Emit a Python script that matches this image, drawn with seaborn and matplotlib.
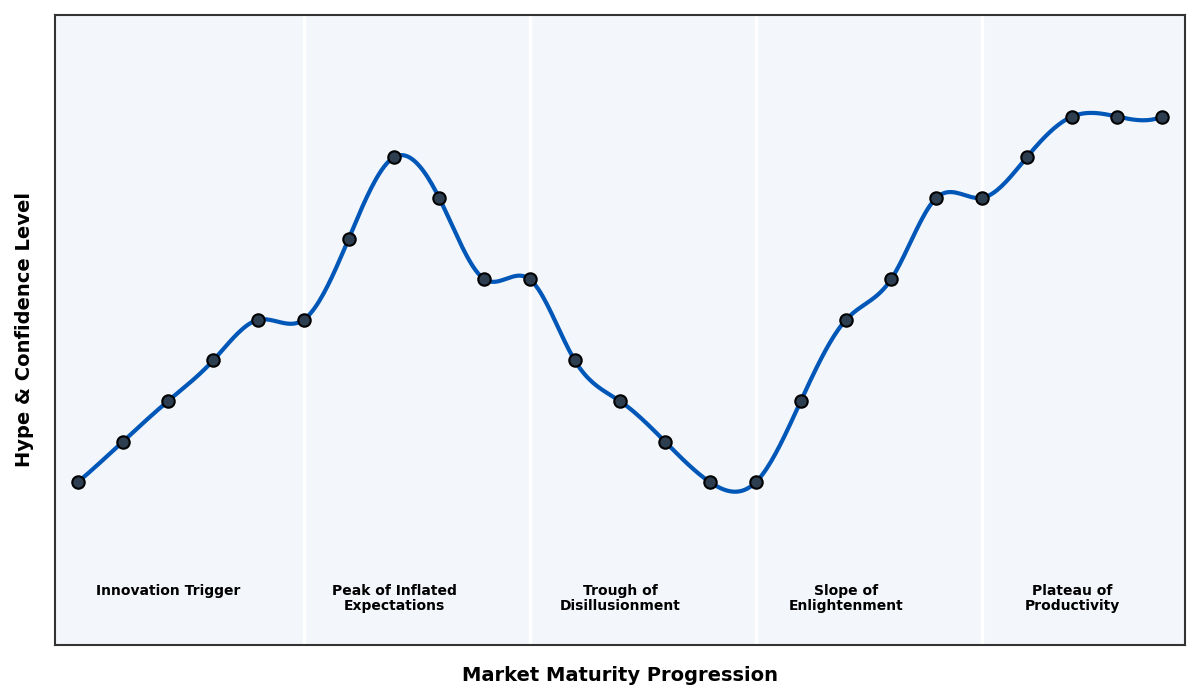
import matplotlib
matplotlib.use("Agg")
import matplotlib.pyplot as plt
import numpy as np
import pandas as pd
import seaborn as sns

# Data
stage = list(range(25))
hype = [1, 2, 3, 4, 5, 5, 7, 9, 8, 6, 6, 4, 3, 2, 1, 1, 3, 5, 6, 8, 8, 9, 10, 10, 10]
phase_names = [
    "Innovation Trigger",
    "Peak of Inflated\nExpectations",
    "Trough of\nDisillusionment",
    "Slope of\nEnlightenment",
    "Plateau of\nProductivity",
]
phase_centers = [2, 7, 12, 17, 22]
phase_bounds = [5, 10, 15, 20]


def smooth_curve(x, y, n=500):
    # cubic spline (not-a-knot) so the line passes through every point
    try:
        from scipy.interpolate import make_interp_spline
        xs = np.linspace(min(x), max(x), n)
        return xs, make_interp_spline(x, y, k=3)(xs)
    except ImportError:
        x = np.asarray(x, float)
        y = np.asarray(y, float)
        m = len(x)
        h = np.diff(x)
        A = np.zeros((m, m))
        b = np.zeros(m)
        A[0, 0], A[0, 1], A[0, 2] = h[1], -(h[0] + h[1]), h[0]
        A[-1, -3], A[-1, -2], A[-1, -1] = h[-1], -(h[-2] + h[-1]), h[-2]
        for i in range(1, m - 1):
            A[i, i - 1] = h[i - 1]
            A[i, i] = 2 * (h[i - 1] + h[i])
            A[i, i + 1] = h[i]
            b[i] = 6 * ((y[i + 1] - y[i]) / h[i] - (y[i] - y[i - 1]) / h[i - 1])
        M = np.linalg.solve(A, b)
        xs = np.linspace(x[0], x[-1], n)
        idx = np.clip(np.searchsorted(x, xs) - 1, 0, m - 2)
        x0, x1 = x[idx], x[idx + 1]
        hh = x1 - x0
        ys = (M[idx] * (x1 - xs) ** 3 / (6 * hh) + M[idx + 1] * (xs - x0) ** 3 / (6 * hh)
              + (y[idx] / hh - M[idx] * hh / 6) * (x1 - xs)
              + (y[idx + 1] / hh - M[idx + 1] * hh / 6) * (xs - x0))
        return xs, ys


sns.set_theme(style="white")
plt.rcParams["font.family"] = ["DejaVu Sans"]

df = pd.DataFrame({"stage": stage, "hype": hype})
xs, ys = smooth_curve(stage, hype)
curve = pd.DataFrame({"stage": xs, "hype": ys})

fig = plt.figure(figsize=(12, 7), dpi=100)
ax = fig.add_axes([0.0458, 0.0786, 0.9417, 0.9])
ax.set_facecolor("#F3F6FA")

for b in phase_bounds:
    ax.axvline(b, color="white", linewidth=2.5, zorder=1)

sns.lineplot(data=curve, x="stage", y="hype", color="#0057B7", linewidth=3, ax=ax, zorder=3)
sns.scatterplot(data=df, x="stage", y="hype", color="#2C3E50", edgecolor="black",
                linewidth=1.5, s=80, ax=ax, zorder=4)

for name, cx in zip(phase_names, phase_centers):
    ax.text(cx, -1.5, name, ha="center", va="top", fontsize=10, fontweight="bold",
            color="black", linespacing=1.05)

ax.set_xlim(-0.5, 24.5)
ax.set_ylim(-3, 12.5)
ax.set_xticks([])
ax.set_yticks([])
ax.set_xlabel("Market Maturity Progression", fontsize=14, fontweight="bold",
              labelpad=15, color="black")
ax.set_ylabel("Hype & Confidence Level", fontsize=14, fontweight="bold",
              labelpad=15, color="black")
for s in ax.spines.values():
    s.set_visible(True)
    s.set_color("#333333")
    s.set_linewidth(1.5)

fig.savefig("out.png", dpi=100)
